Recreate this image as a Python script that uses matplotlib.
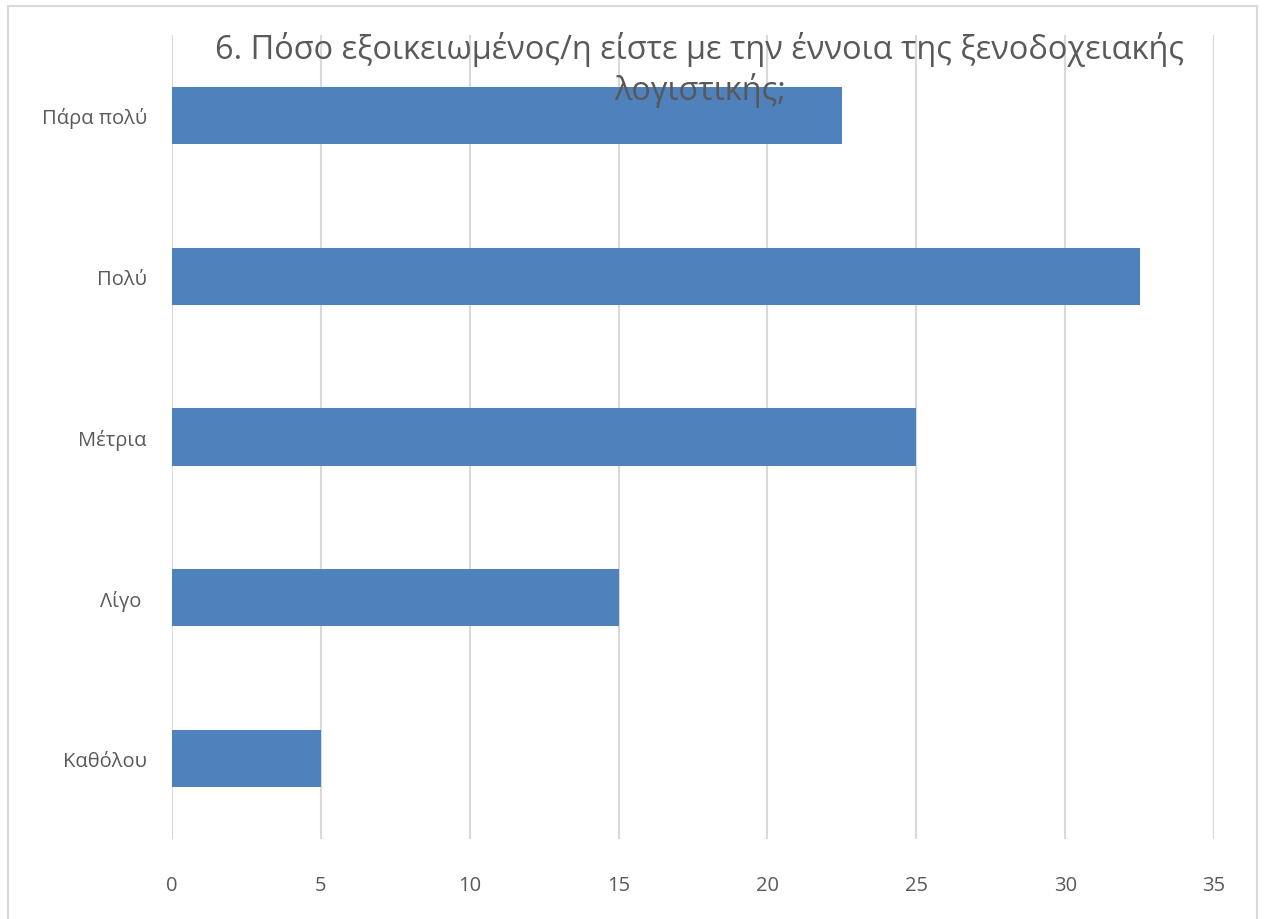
import matplotlib.pyplot as plt
from matplotlib.patches import Rectangle

categories = ['Καθόλου', 'Λίγο ', 'Μέτρια', 'Πολύ', 'Πάρα πολύ']
values = [5, 15, 25, 32.5, 22.5]
x_ticks = [0, 5, 10, 15, 20, 25, 30, 35]

W, H = 1264, 920
plt.rcParams['font.family'] = ['Open Sans', 'DejaVu Sans']

fig = plt.figure(figsize=(W / 100, H / 100), dpi=100)
fig.patch.set_facecolor('white')

# outer chart border
fig.patches.append(Rectangle((8 / W, -0.05), (1257 - 8) / W, 1.05 - 7 / H,
                             transform=fig.transFigure, fill=False,
                             edgecolor='#d9d9d9', linewidth=1.5))

ax = fig.add_axes([172 / W, (H - 840) / H, (1214 - 172) / W, (840 - 36) / H])
ax.barh(range(len(categories)), values, height=0.355, color='#4F81BD', zorder=3)

ax.set_xlim(0, 35)
ax.set_ylim(-0.5, len(categories) - 0.5)
ax.set_xticks(x_ticks)
ax.set_yticks(range(len(categories)))
ax.set_yticklabels(categories)
ax.tick_params(axis='both', length=0, labelsize=14.5, labelcolor='#595959')
ax.tick_params(axis='x', pad=26)
ax.tick_params(axis='y', pad=18)
ax.grid(axis='x', color='#d9d9d9', linewidth=1.5, zorder=0)
for s in ax.spines.values():
    s.set_visible(False)

fig.text(700 / W, 1 - 70 / H, '6. Πόσο εξοικειωμένος/η είστε με την έννοια της ξενοδοχειακής\nλογιστικής;',
         ha='center', va='center', fontsize=23.4, color='#595959', linespacing=1.25)

fig.savefig('out.png', dpi=100)
